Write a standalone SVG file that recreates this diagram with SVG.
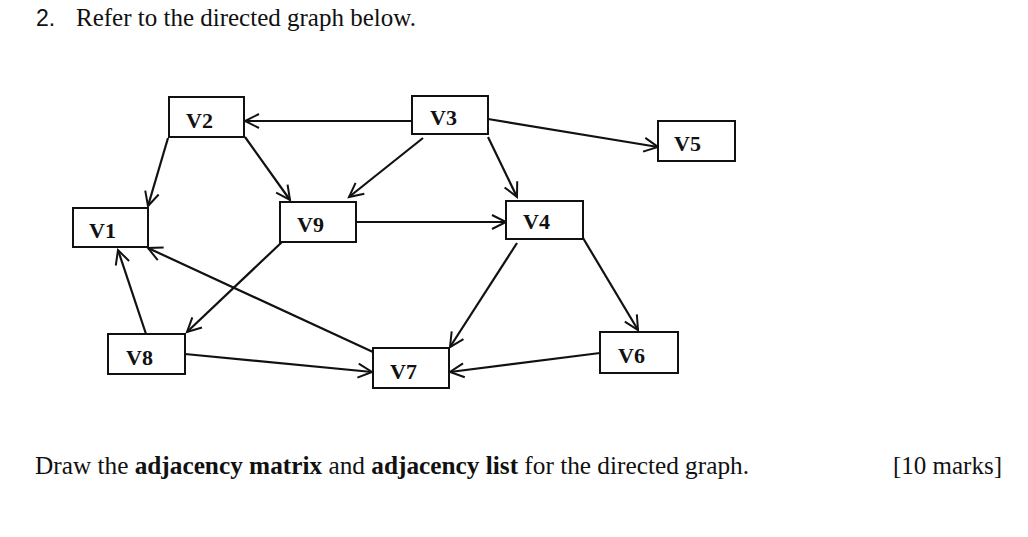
<svg xmlns="http://www.w3.org/2000/svg" width="1028" height="537" viewBox="0 0 1028 537">
<defs>
<style>
.node rect{fill:#fff;stroke:#111;stroke-width:2}
.node text{font-family:"Liberation Serif","Times New Roman",serif;font-weight:bold;font-size:22px;fill:#111}
.edge{stroke:#111;stroke-width:2.2;fill:none;marker-end:url(#arr)}
.txt{font-family:"Liberation Serif","Times New Roman",serif;font-size:25px;fill:#111}
.b{font-weight:bold}
</style>
<marker id="arr" markerUnits="userSpaceOnUse" markerWidth="20" markerHeight="20" viewBox="-16 -10 20 20" refX="0" refY="0" orient="auto">
<path d="M -14 -7 L 0 0 L -14 7" fill="none" stroke="#111" stroke-width="2"/>
</marker>
</defs>
<rect width="1028" height="537" fill="#fff"/>
<text x="36" y="26" font-family="Liberation Sans, Arial, sans-serif" font-size="23" fill="#111">2.</text>
<text x="76" y="26" class="txt">Refer to the directed graph below.</text>
<g id="connectors">
<line class="edge" x1="412" y1="121" x2="245" y2="121"/>
<line class="edge" x1="488" y1="119" x2="658" y2="147"/>
<line class="edge" x1="423" y1="138" x2="349" y2="197"/>
<line class="edge" x1="488" y1="137" x2="517" y2="197"/>
<line class="edge" x1="168" y1="138" x2="148" y2="206"/>
<line class="edge" x1="245" y1="137" x2="290" y2="200"/>
<line class="edge" x1="356" y1="222" x2="506" y2="222"/>
<line class="edge" x1="282" y1="242" x2="187" y2="332"/>
<line class="edge" x1="146" y1="334" x2="118" y2="250"/>
<line class="edge" x1="373" y1="352" x2="148" y2="248"/>
<line class="edge" x1="185" y1="354" x2="372" y2="372"/>
<line class="edge" x1="517" y1="243" x2="450" y2="347"/>
<line class="edge" x1="583" y1="238" x2="638" y2="330"/>
<line class="edge" x1="600" y1="353" x2="450" y2="372"/>
</g>
<g id="V1" class="node"><rect x="73" y="208" width="75" height="39"/><text x="89" y="238">V1</text></g>
<g id="V2" class="node"><rect x="169" y="97" width="75" height="40"/><text x="186" y="128">V2</text></g>
<g id="V3" class="node"><rect x="412" y="96" width="76" height="38"/><text x="430" y="125">V3</text></g>
<g id="V4" class="node"><rect x="506" y="201" width="77" height="38"/><text x="523" y="229">V4</text></g>
<g id="V5" class="node"><rect x="658" y="121" width="77" height="40"/><text x="674" y="151">V5</text></g>
<g id="V6" class="node"><rect x="600" y="332" width="78" height="41"/><text x="618" y="363">V6</text></g>
<g id="V7" class="node"><rect x="373" y="348" width="76" height="40"/><text x="390" y="379">V7</text></g>
<g id="V8" class="node"><rect x="108" y="334" width="77" height="40"/><text x="126" y="365">V8</text></g>
<g id="V9" class="node"><rect x="280" y="202" width="76" height="40"/><text x="297" y="232">V9</text></g>
<text x="35" y="474" class="txt" textLength="714" lengthAdjust="spacingAndGlyphs">Draw the <tspan class="b">adjacency matrix</tspan> and <tspan class="b">adjacency list</tspan> for the directed graph.</text>
<text x="893" y="474" class="txt">[10 marks]</text>
</svg>
